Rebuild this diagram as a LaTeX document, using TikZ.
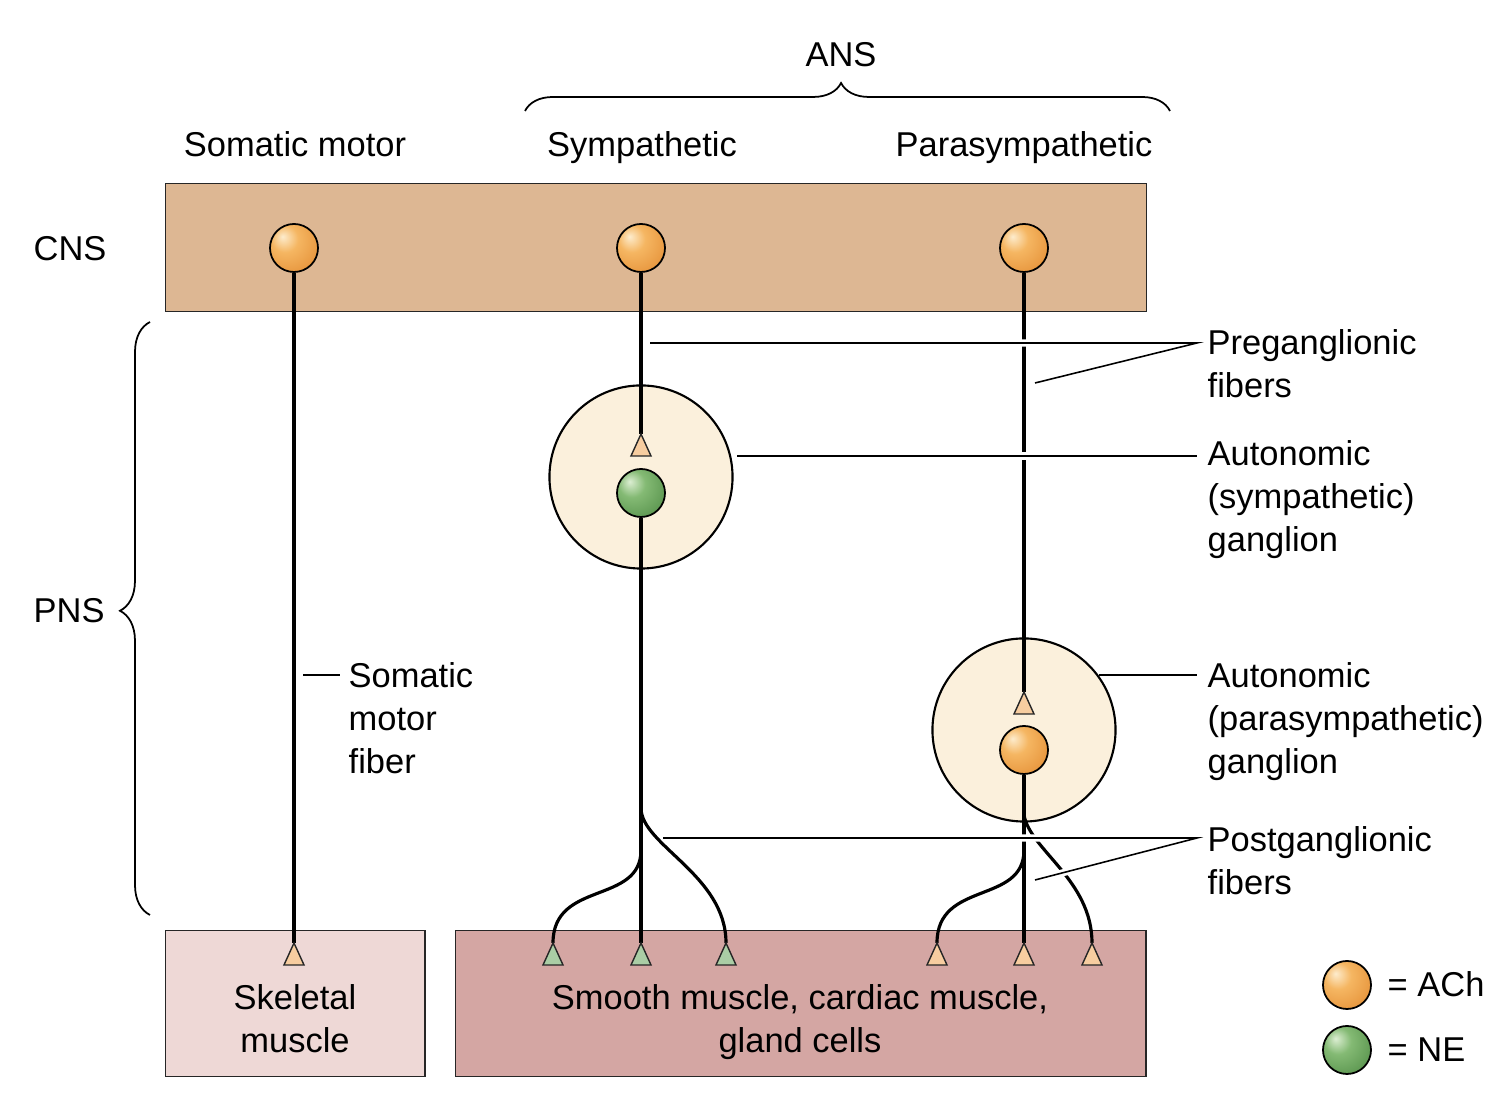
\documentclass[tikz,border=0pt]{standalone}
\usepackage{fontspec}
\setmainfont{Liberation Sans}
\usetikzlibrary{decorations.pathreplacing}
\definecolor{cnsfill}{RGB}{221,183,147}
\definecolor{skelfill}{RGB}{238,216,214}
\definecolor{smoothfill}{RGB}{212,166,163}
\definecolor{ganfill}{RGB}{251,240,220}
\definecolor{trior}{RGB}{247,205,160}
\definecolor{trigr}{RGB}{170,205,165}
\definecolor{achlight}{RGB}{253,236,205}
\definecolor{achmid}{RGB}{245,182,98}
\definecolor{achdark}{RGB}{226,138,48}
\definecolor{nelight}{RGB}{220,238,210}
\definecolor{nemid}{RGB}{132,186,116}
\definecolor{nedark}{RGB}{78,138,68}
\pgfdeclareradialshading{achshade}{\pgfpoint{-12bp}{12bp}}{color(0bp)=(achlight); color(14bp)=(achmid); color(42bp)=(achdark); color(70bp)=(achdark)}
\pgfdeclareradialshading{neshade}{\pgfpoint{-12bp}{12bp}}{color(0bp)=(nelight); color(14bp)=(nemid); color(42bp)=(nedark); color(70bp)=(nedark)}
\newcommand{\tipmark}[2]{\filldraw[draw=black!85, line width=0.4pt, fill=#2] (#1) -- ++(-10,22) -- ++(20,0) -- cycle;}
\begin{document}
\begin{tikzpicture}[x=0.01cm, y=-0.01cm,
  font=\fontsize{9.8}{12.2}\selectfont,
  lbl/.style={inner sep=0pt},
  box/.style={draw=black!85, line width=0.4pt, inner sep=0pt, anchor=north west},
  ganglion/.style={circle, draw=black, line width=0.6pt, fill=ganfill, minimum size=1.83cm, inner sep=0pt},
  achball/.style={circle, draw=black, line width=0.5pt, shade, shading=achshade, minimum size=0.48cm, inner sep=0pt},
  neball/.style={circle, draw=black, line width=0.5pt, shade, shading=neshade, minimum size=0.48cm, inner sep=0pt},
  fiber/.style={line width=0.9pt},
  leader/.style={line width=0.45pt, preaction={draw=white, line width=2.0pt}},
  leaderplain/.style={line width=0.45pt},
  bracestyle/.style={line width=0.5pt, decorate}
]
\useasboundingbox (0,0) rectangle (1496,1098);

% boxes
\node[box, fill=cnsfill, minimum width=9.8cm, minimum height=1.28cm] (cns) at (165,183) {};
\node[box, fill=skelfill, minimum width=2.59cm, minimum height=1.46cm] (skel) at (165,930) {};
\node[box, fill=smoothfill, minimum width=6.9cm, minimum height=1.46cm] (smooth) at (455,930) {};

% ganglia
\node[ganglion] (g1) at (641,477) {};
\node[ganglion] (g2) at (1024,730) {};

% neurons
\node[achball] (n1) at (294,248) {};
\node[achball] (n2) at (641,248) {};
\node[achball] (n3) at (1024,248) {};
\node[neball] (m1) at (641,493) {};
\node[achball] (m2) at (1024,750) {};

% terminal coordinates
\coordinate (ts) at (294,943);
\coordinate (tg1) at (641,434);
\coordinate (tg2) at (1024,692);
\coordinate (tp1) at (553,943);
\coordinate (tp2) at (641,943);
\coordinate (tp3) at (726,943);
\coordinate (tq1) at (937,943);
\coordinate (tq2) at (1024,943);
\coordinate (tq3) at (1092,943);
\coordinate (b1) at (641,850);
\coordinate (b2) at (641,808);
\coordinate (c1) at (1024,850);
\coordinate (c2) at (1024,815);

% fibers
\draw[fiber] (n1.south) -- (ts);
\draw[fiber] (n2.south) -- (tg1);
\draw[fiber] (m1.south) -- (tp2);
\draw[fiber] (n3.south) -- (tg2);
\draw[fiber] (m2.south) -- (tq2);
\draw[fiber] (b1) .. controls (641,905) and (553,880) .. (tp1);
\draw[fiber] (b2) .. controls (641,845) and (726,875) .. (tp3);
\draw[fiber] (c1) .. controls (1024,905) and (937,880) .. (tq1);
\draw[fiber] (c2) .. controls (1030,850) and (1092,880) .. (tq3);

% terminals
\tipmark{ts}{trior}
\tipmark{tg1}{trior}
\tipmark{tg2}{trior}
\tipmark{tp1}{trigr}
\tipmark{tp2}{trigr}
\tipmark{tp3}{trigr}
\tipmark{tq1}{trior}
\tipmark{tq2}{trior}
\tipmark{tq3}{trior}

% leader lines
\coordinate (pre0) at (650,343);
\coordinate (pre1) at (1197,343);
\coordinate (pre2) at (1035,383);
\coordinate (sg0) at (737,456);
\coordinate (sg1) at (1197,456);
\coordinate (pg0) at (1099,675);
\coordinate (pg1) at (1197,675);
\coordinate (po0) at (663,838);
\coordinate (po1) at (1197,838);
\coordinate (po2) at (1035,880);
\coordinate (sm0) at (303,675);
\coordinate (sm1) at (340,675);
\draw[leader] (pre0) -- (pre1) -- (pre2);
\draw[leader] (sg0) -- (sg1);
\draw[leaderplain] (pg0) -- (pg1);
\draw[leader] (po0) -- (po1) -- (po2);
\draw[leaderplain] (sm0) -- (sm1);

% braces
\coordinate (ansL) at (525,111);
\coordinate (ansR) at (1170,111);
\draw[bracestyle, decoration={brace, amplitude=0.28cm, aspect=0.49}] (ansL) -- (ansR);
\coordinate (pnsB) at (150,915);
\coordinate (pnsT) at (150,322);
\draw[bracestyle, decoration={brace, amplitude=0.3cm, aspect=0.513}] (pnsB) -- (pnsT);

% labels
\node[lbl, anchor=base] (ans) at (841,67) {ANS};
\node[lbl, anchor=base] (hsom) at (295,157) {Somatic motor};
\node[lbl, anchor=base] (hsym) at (642,157) {Sympathetic};
\node[lbl, anchor=base] (hpar) at (1024,157) {Parasympathetic};
\node[lbl, anchor=base west] (lcns) at (33,261) {CNS};
\node[lbl, anchor=base west] (lpns) at (33,623) {PNS};
\node[lbl, anchor=north west, align=left] (lsmf) at (348,662) {Somatic\\motor\\fiber};
\node[lbl, anchor=north west, align=left] (lpre) at (1207,329) {Preganglionic\\fibers};
\node[lbl, anchor=north west, align=left] (lsg) at (1207,440) {Autonomic\\(sympathetic)\\ganglion};
\node[lbl, anchor=north west, align=left] (lpg) at (1207,662) {Autonomic\\(parasympathetic)\\ganglion};
\node[lbl, anchor=north west, align=left] (lpo) at (1207,826) {Postganglionic\\fibers};
\node[lbl, anchor=north, align=center] (lskel) at (295,984) {Skeletal\\muscle};
\node[lbl, anchor=north, align=center] (lsmooth) at (800,984) {Smooth muscle, cardiac muscle,\\gland cells};

% legend
\node[achball] (kach) at (1347,985) {};
\node[neball] (kne) at (1347,1050) {};
\node[lbl, anchor=base west] (tach) at (1387,997) {= ACh};
\node[lbl, anchor=base west] (tne) at (1387,1062) {= NE};
\end{tikzpicture}
\end{document}
